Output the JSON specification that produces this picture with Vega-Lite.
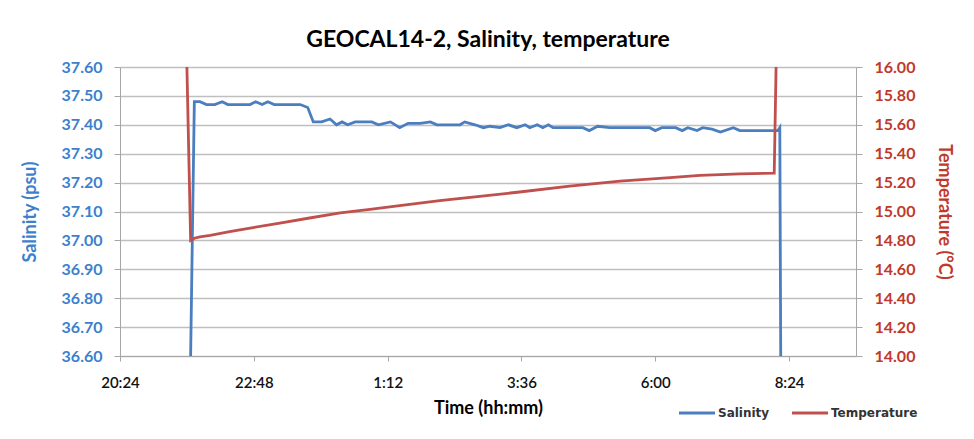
{
  "$schema": "https://vega.github.io/schema/vega-lite/v6.json",
  "autosize": {"type": "none"},
  "width": 736,
  "height": 289,
  "padding": {"left": 120, "top": 67, "right": 118, "bottom": 83},
  "background": "white",
  "config": {
    "font": "Lato",
    "view": {"stroke": null},
    "title": {"font": "Lato", "fontSize": 23, "fontWeight": "bold", "color": "#000000", "anchor": "middle", "offset": 7}
  },
  "title": {"text": "GEOCAL14-2, Salinity, temperature"},
  "datasets": {
    "salinity": [
      {"time": "2014-01-01T21:40:00", "salinity": 36.60},
      {"time": "2014-01-01T21:44:00", "salinity": 37.48},
      {"time": "2014-01-01T21:50:00", "salinity": 37.48},
      {"time": "2014-01-01T21:57:00", "salinity": 37.47},
      {"time": "2014-01-01T22:06:00", "salinity": 37.47},
      {"time": "2014-01-01T22:14:00", "salinity": 37.48},
      {"time": "2014-01-01T22:20:00", "salinity": 37.47},
      {"time": "2014-01-01T22:44:00", "salinity": 37.47},
      {"time": "2014-01-01T22:50:00", "salinity": 37.48},
      {"time": "2014-01-01T22:57:00", "salinity": 37.47},
      {"time": "2014-01-01T23:03:00", "salinity": 37.48},
      {"time": "2014-01-01T23:10:00", "salinity": 37.47},
      {"time": "2014-01-01T23:38:00", "salinity": 37.47},
      {"time": "2014-01-01T23:46:00", "salinity": 37.46},
      {"time": "2014-01-01T23:52:00", "salinity": 37.41},
      {"time": "2014-01-02T00:01:00", "salinity": 37.41},
      {"time": "2014-01-02T00:10:00", "salinity": 37.42},
      {"time": "2014-01-02T00:17:00", "salinity": 37.40},
      {"time": "2014-01-02T00:23:00", "salinity": 37.41},
      {"time": "2014-01-02T00:29:00", "salinity": 37.40},
      {"time": "2014-01-02T00:37:00", "salinity": 37.41},
      {"time": "2014-01-02T00:55:00", "salinity": 37.41},
      {"time": "2014-01-02T01:02:00", "salinity": 37.40},
      {"time": "2014-01-02T01:15:00", "salinity": 37.41},
      {"time": "2014-01-02T01:25:00", "salinity": 37.39},
      {"time": "2014-01-02T01:34:00", "salinity": 37.405},
      {"time": "2014-01-02T01:47:00", "salinity": 37.405},
      {"time": "2014-01-02T01:58:00", "salinity": 37.41},
      {"time": "2014-01-02T02:05:00", "salinity": 37.40},
      {"time": "2014-01-02T02:30:00", "salinity": 37.40},
      {"time": "2014-01-02T02:35:00", "salinity": 37.41},
      {"time": "2014-01-02T02:46:00", "salinity": 37.40},
      {"time": "2014-01-02T02:55:00", "salinity": 37.39},
      {"time": "2014-01-02T03:02:00", "salinity": 37.395},
      {"time": "2014-01-02T03:13:00", "salinity": 37.39},
      {"time": "2014-01-02T03:22:00", "salinity": 37.40},
      {"time": "2014-01-02T03:31:00", "salinity": 37.39},
      {"time": "2014-01-02T03:40:00", "salinity": 37.40},
      {"time": "2014-01-02T03:45:00", "salinity": 37.39},
      {"time": "2014-01-02T03:53:00", "salinity": 37.40},
      {"time": "2014-01-02T03:59:00", "salinity": 37.39},
      {"time": "2014-01-02T04:05:00", "salinity": 37.40},
      {"time": "2014-01-02T04:10:00", "salinity": 37.39},
      {"time": "2014-01-02T04:42:00", "salinity": 37.39},
      {"time": "2014-01-02T04:49:00", "salinity": 37.38},
      {"time": "2014-01-02T04:58:00", "salinity": 37.395},
      {"time": "2014-01-02T05:11:00", "salinity": 37.39},
      {"time": "2014-01-02T05:54:00", "salinity": 37.39},
      {"time": "2014-01-02T06:00:00", "salinity": 37.38},
      {"time": "2014-01-02T06:07:00", "salinity": 37.39},
      {"time": "2014-01-02T06:22:00", "salinity": 37.39},
      {"time": "2014-01-02T06:29:00", "salinity": 37.38},
      {"time": "2014-01-02T06:35:00", "salinity": 37.39},
      {"time": "2014-01-02T06:45:00", "salinity": 37.38},
      {"time": "2014-01-02T06:51:00", "salinity": 37.39},
      {"time": "2014-01-02T07:01:00", "salinity": 37.385},
      {"time": "2014-01-02T07:10:00", "salinity": 37.375},
      {"time": "2014-01-02T07:24:00", "salinity": 37.39},
      {"time": "2014-01-02T07:31:00", "salinity": 37.38},
      {"time": "2014-01-02T08:12:00", "salinity": 37.38},
      {"time": "2014-01-02T08:14:00", "salinity": 37.39},
      {"time": "2014-01-02T08:15:00", "salinity": 36.60}
    ],
    "temperature": [
      {"time": "2014-01-01T21:36:00", "temperature": 16.00},
      {"time": "2014-01-01T21:40:00", "temperature": 14.80},
      {"time": "2014-01-01T21:44:00", "temperature": 14.815},
      {"time": "2014-01-01T21:50:00", "temperature": 14.825},
      {"time": "2014-01-01T22:01:00", "temperature": 14.835},
      {"time": "2014-01-01T22:22:00", "temperature": 14.86},
      {"time": "2014-01-01T22:44:00", "temperature": 14.885},
      {"time": "2014-01-01T23:16:00", "temperature": 14.92},
      {"time": "2014-01-01T23:48:00", "temperature": 14.955},
      {"time": "2014-01-02T00:21:00", "temperature": 14.99},
      {"time": "2014-01-02T00:53:00", "temperature": 15.015},
      {"time": "2014-01-02T01:25:00", "temperature": 15.04},
      {"time": "2014-01-02T02:08:00", "temperature": 15.075},
      {"time": "2014-01-02T02:51:00", "temperature": 15.105},
      {"time": "2014-01-02T03:34:00", "temperature": 15.135},
      {"time": "2014-01-02T04:28:00", "temperature": 15.175},
      {"time": "2014-01-02T05:22:00", "temperature": 15.21},
      {"time": "2014-01-02T06:16:00", "temperature": 15.235},
      {"time": "2014-01-02T06:48:00", "temperature": 15.25},
      {"time": "2014-01-02T07:31:00", "temperature": 15.26},
      {"time": "2014-01-02T08:08:00", "temperature": 15.265},
      {"time": "2014-01-02T08:10:00", "temperature": 16.00}
    ]
  },
  "encoding": {
    "x": {
      "field": "time",
      "type": "temporal",
      "scale": {
        "domain": [
          {"year": 2014, "month": 1, "date": 1, "hours": 20, "minutes": 24},
          {"year": 2014, "month": 1, "date": 2, "hours": 9, "minutes": 36}
        ]
      },
      "axis": {
        "title": "Time (hh:mm)",
        "titleFont": "Lato",
        "titleFontSize": 18,
        "titleFontWeight": "bold",
        "titleColor": "#000000",
        "titlePadding": 9,
        "values": [
          {"year": 2014, "month": 1, "date": 1, "hours": 20, "minutes": 24},
          {"year": 2014, "month": 1, "date": 1, "hours": 22, "minutes": 48},
          {"year": 2014, "month": 1, "date": 2, "hours": 1, "minutes": 12},
          {"year": 2014, "month": 1, "date": 2, "hours": 3, "minutes": 36},
          {"year": 2014, "month": 1, "date": 2, "hours": 6, "minutes": 0},
          {"year": 2014, "month": 1, "date": 2, "hours": 8, "minutes": 24}
        ],
        "format": "%-H:%M",
        "labelFont": "Lato",
        "labelFontSize": 15,
        "labelFontWeight": 600,
        "labelColor": "#111111",
        "labelPadding": 14,
        "labelFlush": false,
        "grid": false,
        "domainColor": "#a6a6a6",
        "tickColor": "#a6a6a6",
        "tickSize": 5
      }
    }
  },
  "layer": [
    {
      "data": {"name": "salinity"},
      "mark": {"type": "line", "strokeWidth": 2.8, "clip": true},
      "encoding": {
        "y": {
          "field": "salinity",
          "type": "quantitative",
          "scale": {"domain": [36.6, 37.6], "nice": false, "zero": false},
          "axis": {
            "orient": "left",
            "title": "Salinity (psu)",
            "titleFont": "Lato",
            "titleFontSize": 18,
            "titleFontWeight": "bold",
            "titleColor": "#3d7fcc",
            "titlePadding": 22,
            "values": [36.6, 36.7, 36.8, 36.9, 37.0, 37.1, 37.2, 37.3, 37.4, 37.5, 37.6],
            "format": ".2f",
            "labelFont": "Lato",
            "labelFontSize": 16,
            "labelFontWeight": "bold",
            "labelColor": "#3d7fcc",
            "labelPadding": 12,
            "grid": true,
            "gridColor": "#bfbfbf",
            "gridWidth": 1.5,
            "domainColor": "#a6a6a6",
            "tickColor": "#a6a6a6",
            "tickSize": 6
          }
        },
        "color": {
          "datum": "Salinity",
          "type": "nominal",
          "scale": {"domain": ["Salinity", "Temperature"], "range": ["#4a7ebf", "#c0504d"]},
          "legend": {
            "title": null,
            "orient": "none",
            "legendX": 557,
            "legendY": 326,
            "direction": "horizontal",
            "symbolType": "stroke",
            "symbolStrokeWidth": 3,
            "symbolSize": 1300,
            "labelFont": "DejaVu Sans",
            "labelFontSize": 12,
            "labelFontWeight": "bold",
            "labelColor": "#333333",
            "labelOffset": 1,
            "columnPadding": 15
          }
        }
      }
    },
    {
      "data": {"name": "temperature"},
      "mark": {"type": "line", "strokeWidth": 2.8, "clip": true},
      "encoding": {
        "y": {
          "field": "temperature",
          "type": "quantitative",
          "scale": {"domain": [14, 16], "nice": false, "zero": false},
          "axis": {
            "orient": "right",
            "title": "Temperature (°C)",
            "titleFont": "Lato",
            "titleFontSize": 18,
            "titleFontWeight": "bold",
            "titleColor": "#c0392b",
            "titlePadding": 20,
            "values": [14.0, 14.2, 14.4, 14.6, 14.8, 15.0, 15.2, 15.4, 15.6, 15.8, 16.0],
            "format": ".2f",
            "labelFont": "Lato",
            "labelFontSize": 16,
            "labelFontWeight": "bold",
            "labelColor": "#c0392b",
            "labelPadding": 12,
            "grid": false,
            "domainColor": "#a6a6a6",
            "tickColor": "#a6a6a6",
            "tickSize": 6
          }
        },
        "color": {"datum": "Temperature", "type": "nominal"}
      }
    }
  ],
  "resolve": {"scale": {"y": "independent"}}
}
